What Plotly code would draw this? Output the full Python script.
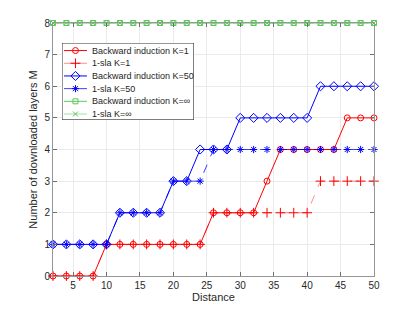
import plotly.graph_objects as go

distance = list(range(2, 51, 2))
bi_k1 = [0, 0, 0, 0, 1, 1, 1, 1, 1, 1, 1, 1, 2, 2, 2, 2, 3, 4, 4, 4, 4, 4, 5, 5, 5]
sla_k1 = [0, 0, 0, 0, 1, 1, 1, 1, 1, 1, 1, 1, 2, 2, 2, 2, 2, 2, 2, 2, 3, 3, 3, 3, 3]
bi_k50 = [1, 1, 1, 1, 1, 2, 2, 2, 2, 3, 3, 4, 4, 4, 5, 5, 5, 5, 5, 5, 6, 6, 6, 6, 6]
sla_k50 = [1, 1, 1, 1, 1, 2, 2, 2, 2, 3, 3, 3, 4, 4, 4, 4, 4, 4, 4, 4, 4, 4, 4, 4, 4]
bi_kinf = [8] * 25
sla_kinf = [8] * 25

series = [
    ("Backward induction K=1", bi_k1, "rgb(255,0,0)", "rgb(255,0,0)", "solid", "circle-open", 6),
    ("1-sla K=1", sla_k1, "rgba(255,0,0,0.45)", "rgb(255,0,0)", "dash", "cross-thin-open", 7),
    ("Backward induction K=50", bi_k50, "rgb(0,0,255)", "rgb(0,0,255)", "solid", "diamond-open", 7),
    ("1-sla K=50", sla_k50, "rgba(0,0,255,0.75)", "rgb(0,0,255)", "dash", "asterisk-open", 6),
    ("Backward induction K=\u221e", bi_kinf, "rgb(90,200,90)", "rgb(90,200,90)", "solid", "square-open", 5),
    ("1-sla K=\u221e", sla_kinf, "rgba(90,200,90,0.55)", "rgb(90,200,90)", "dash", "x-thin-open", 5),
]

fig = go.Figure()
for name, ys, lc, mc, dash, sym, sz in series:
    fig.add_trace(go.Scatter(
        x=distance, y=ys, name=name, mode="lines+markers",
        line=dict(color=lc, width=1, dash=dash),
        marker=dict(symbol=sym, size=sz, color=mc, line=dict(color=mc, width=1)),
        cliponaxis=False, showlegend=False,
    ))

# Custom compact legend drawn on a hidden helper axis (pixel-like units)
box_x = [62, 194, 194, 62, 62]
box_y = [0, 0, 77, 77, 0]
fig.add_trace(go.Scatter(
    x=box_x, y=box_y, mode="lines", fill="toself", fillcolor="white",
    line=dict(color="rgb(40,40,40)", width=1), xaxis="x2", yaxis="y2",
    showlegend=False, hoverinfo="skip", cliponaxis=False,
))
leg_line_x = [64, 87]
leg_marker_x = 75.5
leg_text_x = 90
for i, (name, ys, lc, mc, dash, sym, sz) in enumerate(series):
    yy = 7.6 + 12.7 * i
    fig.add_trace(go.Scatter(
        x=leg_line_x, y=[yy, yy], mode="lines", xaxis="x2", yaxis="y2",
        line=dict(color=lc, width=1), showlegend=False, hoverinfo="skip",
    ))
    fig.add_trace(go.Scatter(
        x=[leg_marker_x], y=[yy], mode="markers", xaxis="x2", yaxis="y2",
        marker=dict(symbol=sym, size=sz, color=mc, line=dict(color=mc, width=1)),
        showlegend=False, hoverinfo="skip",
    ))
    fig.add_annotation(x=leg_text_x, y=yy, xref="x2", yref="y2", text=name,
                       showarrow=False, xanchor="left", yanchor="middle",
                       font=dict(size=9, color="rgb(30,30,30)"))

axis_common = dict(
    showline=True, linecolor="rgb(150,150,150)", linewidth=1, mirror="ticks",
    ticks="inside", ticklen=4, tickcolor="rgb(110,110,110)",
    showgrid=True, gridcolor="rgb(234,234,234)", gridwidth=1,
    zeroline=False, tickfont=dict(size=10, color="rgb(40,40,40)"),
    automargin=False,
)

fig.update_layout(
    width=405, height=302,
    margin=dict(l=45, r=39, t=15, b=34),
    paper_bgcolor="white", plot_bgcolor="white",
    font=dict(family="Liberation Sans, Arial, sans-serif", size=10, color="rgb(40,40,40)"),
    xaxis=dict(range=[2, 50], tickvals=[5, 10, 15, 20, 25, 30, 35, 40, 45, 50],
               title=dict(text="Distance", font=dict(size=11), standoff=3), **axis_common),
    yaxis=dict(range=[0, 8], tickvals=list(range(0, 9)),
               title=dict(text="Number of downloaded layers M", font=dict(size=11), standoff=4), **axis_common),
    xaxis2=dict(domain=[0.028, 0.439], range=[62, 194], visible=False, anchor="y2"),
    yaxis2=dict(domain=[0.617, 0.921], range=[77, 0], visible=False, anchor="x2"),
    showlegend=False,
)

fig.write_html("out.html")
